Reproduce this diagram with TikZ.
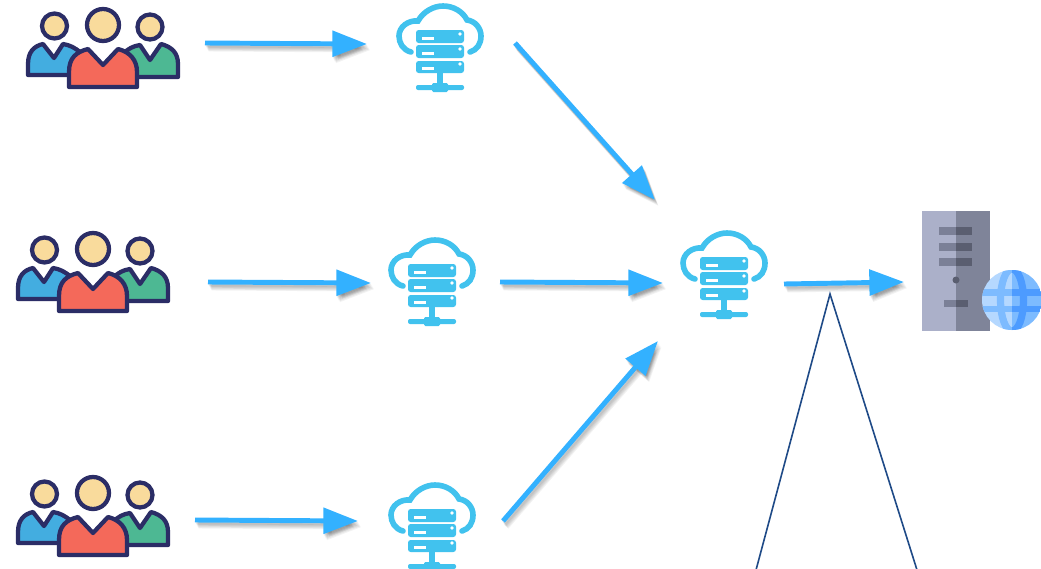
\documentclass[tikz,border=0pt]{standalone}
\usetikzlibrary{arrows.meta}
\definecolor{navy}{HTML}{2B2D66}
\definecolor{skin}{HTML}{F9DB9C}
\definecolor{cb}{HTML}{43ADE0}
\definecolor{cr}{HTML}{F4695A}
\definecolor{cg}{HTML}{4DB893}
\definecolor{sky}{HTML}{41C2EE}
\definecolor{arr}{HTML}{33B1FF}
\definecolor{tri}{HTML}{1F4A87}
\definecolor{sl}{HTML}{ABB0C9}
\definecolor{sd}{HTML}{7F8499}
\definecolor{bl}{HTML}{7B8097}
\definecolor{bd}{HTML}{5A5E70}
\definecolor{gl}{HTML}{B5D8FF}
\definecolor{gm}{HTML}{7DBBFF}
\definecolor{gd}{HTML}{4D9BFF}
\newcommand{\globeparts}[2]{%
  \fill[#1] (982,270) rectangle (1042,332);
  \fill[#2] (982,289) rectangle (1042,295.5);
  \fill[#2] (982,305.5) rectangle (1042,312);
  \draw[#2,line width=5.4pt] (1012,300) ellipse (11.5 and 31);
}
\tikzset{
  x=0.75pt,y=-0.75pt,
  flow/.style={draw=arr,line width=3.7pt,-{Triangle[length=26pt,width=19pt]}},
  shade1/.style={draw=black,opacity=0.05,line width=3.7pt,-{Triangle[length=26pt,width=19pt]}},
  person/.style={draw=navy,line width=3.2pt,line join=round},
  srv/.style={fill=sky,rounded corners=2pt},
  users/.pic={
    \draw[person,fill=cb] (28,75) -- (28,64) .. controls (28,52) and (34,46) .. (43,44) -- (54,58) -- (63,44) .. controls (70,45) and (75,48) .. (80,52) -- (72,75) -- cycle;
    \draw[person,fill=cg] (178,77) -- (178,64) .. controls (178,53) and (172,47) .. (161,44) -- (150,60) -- (140,45) .. controls (133,46) and (128,49) .. (124,53) -- (135,77) -- cycle;
    \draw[person,fill=cr] (69,87) -- (69,72) .. controls (69,58) and (76,52) .. (88,49) -- (103,65) -- (118,49) .. controls (130,52) and (137,60) .. (137,72) -- (137,87) -- cycle;
    \draw[person,fill=skin] (54.5,26) circle (12.5);
    \draw[person,fill=skin] (103,25) circle (16);
    \draw[person,fill=skin] (150,27) circle (12.5);
  },
  cloudsrv/.pic={
    \draw[sky,line width=4.2pt,line cap=round] (411,52) .. controls (403,50) and (399,43) .. (399,36) .. controls (399,27) and (408,20) .. (418,21) .. controls (423,12) and (433,6) .. (443,6) .. controls (454,6) and (463,12) .. (467,20) .. controls (475,21) and (481,28) .. (481,36) .. controls (481,44) and (477,50) .. (470,52);
    \fill[srv] (416,30) rectangle (464,43);
    \fill[srv] (416,45) rectangle (464,58);
    \fill[srv] (416,61) rectangle (464,73);
    \foreach \yy in {37,52,67} {
      \fill[white] (422,\yy) rectangle (434,\yy+3);
      \fill[white] (460,\yy-3) circle (1.8);
    }
    \fill[sky] (437,73) rectangle (443,86);
    \fill[sky,rounded corners=1.5pt] (416,85) rectangle (464,90);
    \fill[sky,rounded corners=1pt] (432,83) rectangle (448,92);
  },
}
\begin{document}
\begin{tikzpicture}
\useasboundingbox (0,0) rectangle (1041,568);
\clip (0,0) rectangle (1041,568);
\fill[white] (0,0) rectangle (1041,568);

\pic at (0,0) {users};
\pic at (-10,224) {users};
\pic at (-10,468) {users};
\pic at (0,0) {cloudsrv};
\pic at (-8,234) {cloudsrv};
\pic at (284,227) {cloudsrv};
\pic at (-8,479) {cloudsrv};

% web server
\fill[sl] (922,211) rectangle (956,331);
\fill[sd] (956,211) rectangle (990,331);
\foreach \yy in {227,243,258} {
  \fill[bl] (939,\yy) rectangle (956,\yy+8);
  \fill[bd] (956,\yy) rectangle (972,\yy+8);
}
\fill[bd] (956,280) circle (3.5);
\fill[bl] (944,300) rectangle (956,307);
\fill[bd] (956,300) rectangle (968,307);
\begin{scope}
  \clip (1012,300) circle (30);
  \begin{scope}
    \clip (982,270) rectangle (1012,332);
    \globeparts{gl}{gm}
  \end{scope}
  \begin{scope}
    \clip (1012,270) rectangle (1042,332);
    \globeparts{gm}{gd}
  \end{scope}
\end{scope}

% connectors
\coordinate (a1s) at (205,43);  \coordinate (a1e) at (367,44);
\coordinate (a2s) at (208,282); \coordinate (a2e) at (371,283);
\coordinate (a3s) at (195,520); \coordinate (a3e) at (358,521);
\coordinate (b1s) at (515,43);  \coordinate (b1e) at (655,200);
\coordinate (b2s) at (500,282); \coordinate (b2e) at (663,283);
\coordinate (b3s) at (503,521); \coordinate (b3e) at (658,341);
\coordinate (cs)  at (784,284); \coordinate (ce)  at (904,282);
\foreach \st/\en in {a1s/a1e,a2s/a2e,a3s/a3e,b1s/b1e,b2s/b2e,b3s/b3e,cs/ce} {
  \foreach \dx in {1,1.7,2.4,3.1,3.8,4.5} {
    \draw[shade1,transform canvas={shift={(0.6*\dx pt,-\dx pt)}}] (\st) -- (\en);
  }
  \draw[flow] (\st) -- (\en);
}

% triangle
\coordinate (tl) at (756,570);
\coordinate (tt) at (830,294);
\coordinate (tr) at (917,570);
\draw[tri,line width=1.2pt,line join=miter] (tl) -- (tt) -- (tr);
\end{tikzpicture}
\end{document}
